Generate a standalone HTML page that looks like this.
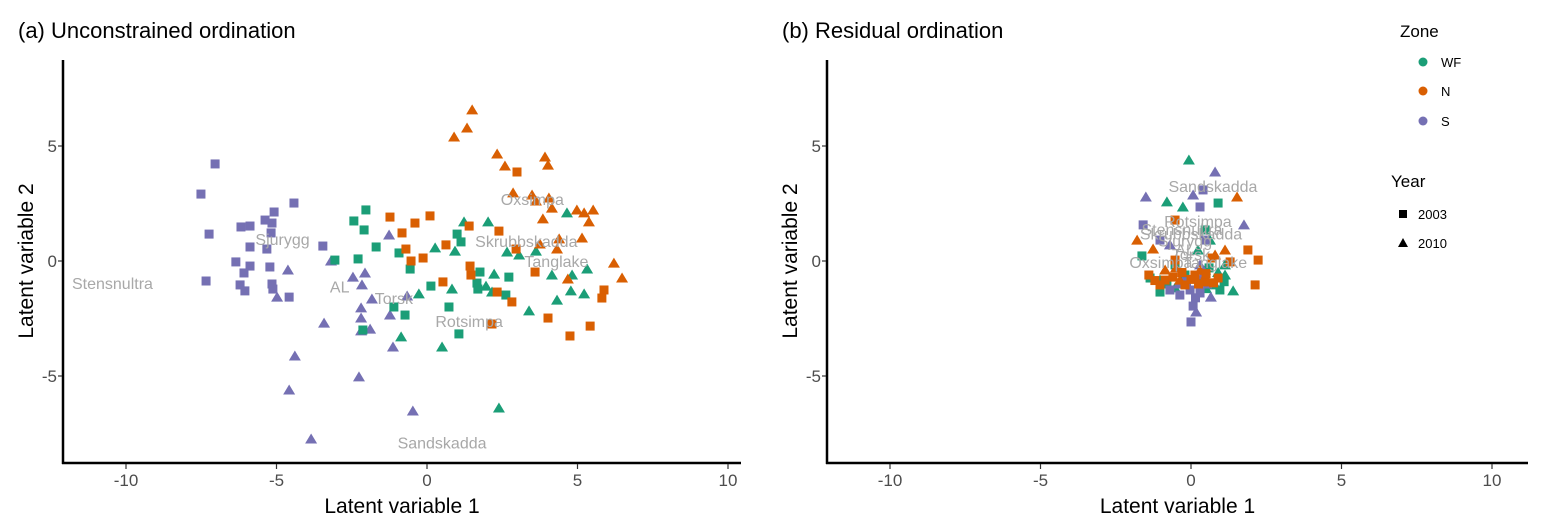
<!DOCTYPE html>
<html><head><meta charset="utf-8"><style>
body{margin:0;background:#fff;}
svg{display:block;font-family:"Liberation Sans",sans-serif;}
</style></head><body>
<svg id="c" width="1545" height="531"></svg>
<script>
// Panel (a) data
const aPurpleSq=[[-7.04,4.22],[-7.51,2.91],[-7.24,1.17],[-7.34,-0.87],[-4.42,2.52],[-5.08,2.13],[-5.38,1.78],[-5.15,1.65],[-6.18,1.48],[-5.88,1.52],[-5.18,1.22],[-5.88,0.61],[-5.32,0.52],[-3.46,0.65],[-6.35,-0.04],[-5.88,-0.22],[-5.22,-0.26],[-6.08,-0.52],[-6.21,-1.04],[-6.05,-1.30],[-5.15,-1.00],[-5.12,-1.22],[-4.58,-1.57]];
const aPurpleTri=[[-4.62,-0.39],[-4.98,-1.57],[-3.19,0],[-2.46,-0.70],[-2.06,-0.52],[-2.16,-1.04],[-1.83,-1.65],[-0.66,-1.52],[-2.19,-2.04],[-2.19,-2.48],[-2.19,-3.04],[-1.89,-2.96],[-1.23,-2.35],[-1.13,-3.74],[-1.26,1.13],[-3.42,-2.70],[-4.39,-4.13],[-4.58,-5.61],[-2.26,-5.04],[-3.85,-7.74],[-0.47,-6.52]];
const aGreenSq=[[-2.03,2.22],[-2.43,1.74],[-2.09,1.35],[-1.69,0.61],[-0.93,0.35],[-2.29,0.09],[-3.06,0.04],[-0.56,-0.35],[1.00,1.17],[1.13,0.83],[1.76,-0.48],[0.13,-1.09],[1.66,-0.96],[1.69,-1.22],[2.72,-0.70],[2.62,-1.48],[-1.10,-2.00],[-0.73,-2.35],[0.73,-2.00],[1.06,-3.17],[-2.13,-3.00]];
const aGreenTri=[[1.23,1.70],[2.03,1.70],[0.27,0.57],[0.93,0.43],[2.23,-0.57],[0.83,-1.22],[-0.27,-1.43],[1.96,-1.09],[2.16,-1.35],[2.66,0.39],[3.06,0.26],[3.62,0.43],[4.65,2.09],[4.15,-0.61],[4.82,-0.61],[5.32,-0.35],[4.78,-1.30],[5.22,-1.43],[4.32,-1.70],[3.39,-2.17],[-0.86,-3.30],[0.50,-3.74],[2.39,-6.39]];
const aOrangeSq=[[-1.23,1.91],[0.10,1.96],[-0.40,1.65],[-0.83,1.22],[0.63,0.70],[-0.70,0.52],[-0.13,0.13],[-0.53,0],[1.40,1.52],[2.39,1.30],[2.99,3.87],[1.43,-0.22],[1.46,-0.61],[0.53,-0.91],[2.33,-1.35],[2.82,-1.78],[3.59,-0.48],[2.96,0.52],[4.02,-2.48],[4.75,-3.26],[5.42,-2.83],[5.88,-1.26],[5.81,-1.61],[2.16,-2.74]];
const aOrangeTri=[[1.50,6.57],[1.33,5.78],[0.90,5.39],[2.33,4.65],[2.59,4.13],[3.92,4.52],[4.02,4.17],[2.86,2.96],[3.49,2.87],[3.62,2.61],[4.05,2.74],[4.15,2.30],[3.85,1.83],[4.98,2.22],[5.22,2.09],[5.52,2.22],[5.38,1.70],[4.39,0.96],[5.15,1.00],[4.32,0.52],[3.75,0.74],[4.68,-0.78],[6.21,-0.09],[6.48,-0.74]];
const aLabels=["Stensnultra","Sjurygg","AL","Torsk","Rotsimpa","Sandskadda","Oxsimpa","Skrubbskadda","Tanglake"];
const aLabelPos=[[-10.45,-0.96],[-4.8,0.96],[-2.9,-1.1],[-1.1,-1.6],[1.4,-2.6],[0.5,-7.9],[3.5,2.7],[3.3,0.87],[4.3,0]];
// Panel (b) data
const bGreenTri=[[-0.07,4.39],[-0.80,2.57],[-0.27,2.35],[1.40,-1.30],[0.47,-0.39],[0.80,-1.04],[1.13,-0.61],[-0.53,-1.17],[-1.03,-0.83],[0.23,0.48],[0.63,0.91],[1.13,-0.17],[0.9,-0.5],[-0.2,-0.9],[0.5,-1.2]];
const bGreenSq=[[0.90,2.52],[-1.63,0.22],[-1.03,-1.35],[-0.53,-0.17],[0.30,-0.83],[0.96,-1.26],[-0.20,-0.61],[0.47,1.35],[-1.36,-0.74],[-0.8,-1.0],[0.6,-0.3],[1.1,-0.9]];
const bPurpleTri=[[0.80,3.87],[-1.50,2.78],[0.07,2.87],[1.76,1.57],[0.66,-1.57],[0.17,-2.22],[-0.70,0.70],[0.30,-0.17],[-0.4,-1.0],[0.4,-0.6]];
const bPurpleSq=[[0.30,2.35],[0.40,3.09],[-1.59,1.57],[0.07,-1.96],[0,-2.65],[-0.37,-1.48],[-0.03,-1.26],[0.30,-1.39],[-0.70,-1.26],[0.47,0.91],[-1.03,0.91],[-0.15,-0.9],[0.55,-1.0],[0.15,-1.6]];
const bOrangeTri=[[1.53,2.78],[-1.79,0.91],[-1.26,0.52],[-0.37,-0.83],[0.80,0.26],[1.13,0.48],[-0.86,-0.39],[-0.5,-0.3],[0.3,-0.4]];
const bOrangeSq=[[-0.53,1.78],[1.89,0.48],[2.23,0.04],[2.13,-1.04],[-1.40,-0.61],[-0.86,-0.83],[-0.20,-1.04],[0.47,-0.91],[0.90,-0.74],[0.13,-0.61],[-0.53,0.04],[1.30,-0.04],[0.70,0.13],[-1.03,-1.04],[-0.6,-0.7],[0.0,-0.8],[0.25,-1.0],[-0.3,-0.5],[0.75,-0.95],[-1.2,-0.85],[0.5,-0.55]];
const bLabels=["Sandskadda","Rotsimpa","Stensnultra","Skrubbskadda","Sjurygg","AL","Torsk","Oxsimpa","Tanglake"];
const bLabelPos=[[0.73,3.27],[0.23,1.74],[-0.3,1.4],[0,1.2],[-0.2,0.9],[-0.2,0.5],[0,0.3],[-1.0,-0.05],[0.8,-0.05]];
const xTicks=[-10,-5,0,5,10];
const yTicks=[-5,0,5];

const NS="http://www.w3.org/2000/svg";
const svg=document.getElementById('c');
const COL={g:"#1b9e77",o:"#d95f02",p:"#7570b3"};
function el(t,a,p){const e=document.createElementNS(NS,t);for(const k in a)e.setAttribute(k,a[k]);(p||svg).appendChild(e);return e;}

function panel(id,x0px,axisX,axisRight,title,groups,labels,labelPos){
  const g=el('g',{});
  
  
  const sx=v=>x0px+v*30.1, sy=v=>261-v*23;
  const t=el('text',{x:axisX-45,y:38,'font-size':22,fill:'#000'},g);t.textContent=title;
  
  
  for(const gr of groups){
    for(const d of gr.data){
      const cx=sx(d[0]),cy=sy(d[1]);let m;
      if(gr.shape==='sq') m=el('rect',{x:cx-4.5,y:cy-4.5,width:9,height:9,fill:COL[gr.c]},g);
      else m=el('polygon',{points:`${cx},${cy-5.5} ${cx+6},${cy+4.5} ${cx-6},${cy+4.5}`,fill:COL[gr.c]},g);
      
      
    }
  }
  labels.forEach((l,i)=>{
    const tx=el('text',{x:sx(labelPos[i][0]),y:sy(labelPos[i][1])+6,'font-size':16,fill:'#a8a8a8','text-anchor':'middle'},g);
    tx.textContent=l;
    
    
  });
  const ya=el('line',{x1:axisX,y1:60,x2:axisX,y2:464,stroke:'#000','stroke-width':2.5},g);
  
  
  const xa=el('line',{x1:axisX-1,y1:463,x2:axisRight,y2:463,stroke:'#000','stroke-width':2.5},g);
  
  
  xTicks.forEach(v=>{
    el('line',{x1:sx(v),y1:464,x2:sx(v),y2:469,stroke:'#333','stroke-width':1.2},g);
    const tt=el('text',{x:sx(v),y:486,'font-size':17,fill:'#4d4d4d','text-anchor':'middle'},g);tt.textContent=v;
    
    
  });
  yTicks.forEach(v=>{
    el('line',{x1:axisX-5,y1:sy(v),x2:axisX-1,y2:sy(v),stroke:'#333','stroke-width':1.2},g);
    const tt=el('text',{x:axisX-6,y:sy(v)+6,'font-size':17,fill:'#4d4d4d','text-anchor':'end'},g);tt.textContent=v;
    
    
  });
  const xt=el('text',{x:(axisX+axisRight)/2,y:513,'font-size':21,fill:'#000','text-anchor':'middle'},g);xt.textContent='Latent variable 1';
  
  
  const yt=el('text',{x:0,y:0,'font-size':21,fill:'#000','text-anchor':'middle',transform:`translate(${axisX-30},261) rotate(-90)`},g);yt.textContent='Latent variable 2';
  
  
}
panel('panel-unconstrained',427,63,741,'(a) Unconstrained ordination',[
 {data:aPurpleSq,c:'p',shape:'sq'},{data:aPurpleTri,c:'p',shape:'tri'},
 {data:aGreenSq,c:'g',shape:'sq'},{data:aGreenTri,c:'g',shape:'tri'},
 {data:aOrangeSq,c:'o',shape:'sq'},{data:aOrangeTri,c:'o',shape:'tri'}],aLabels,aLabelPos);
panel('panel-residual',1191,827,1528,'(b) Residual ordination',[
 {data:bGreenTri,c:'g',shape:'tri'},{data:bGreenSq,c:'g',shape:'sq'},
 {data:bPurpleTri,c:'p',shape:'tri'},{data:bPurpleSq,c:'p',shape:'sq'},
 {data:bOrangeTri,c:'o',shape:'tri'},{data:bOrangeSq,c:'o',shape:'sq'}],bLabels,bLabelPos);

// Legend
const lg=el('g',{});


let t=el('text',{x:1400,y:37,'font-size':17,fill:'#000'},lg);t.textContent='Zone';
[['WF','g',62],['N','o',91],['S','p',121]].forEach(z=>{
  el('circle',{cx:1423,cy:z[2],r:4.5,fill:COL[z[1]]},lg);
  const tx=el('text',{x:1441,y:z[2]+5,'font-size':13,fill:'#000'},lg);tx.textContent=z[0];
  
  
});
t=el('text',{x:1391,y:187,'font-size':17,fill:'#000'},lg);t.textContent='Year';
el('rect',{x:1399,y:210,width:8,height:8,fill:'#000'},lg);
t=el('text',{x:1418,y:219,'font-size':13,fill:'#000'},lg);t.textContent='2003';


el('polygon',{points:'1403,238 1408,247 1398,247',fill:'#000'},lg);
t=el('text',{x:1418,y:248,'font-size':13,fill:'#000'},lg);t.textContent='2010';


</script>
</body></html>
